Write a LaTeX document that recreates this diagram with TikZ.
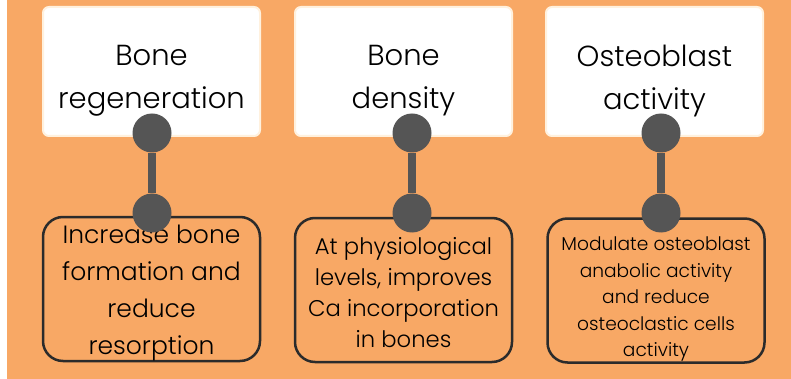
\documentclass[tikz,border=0pt]{standalone}
\usepackage{fontspec}
\setmainfont{Poppins}[UprightFont=* Light]
\usepackage{tikz}
\usetikzlibrary{
  arrows.meta,
  shapes,
  positioning,
  calc,
  backgrounds
}
\definecolor{boPage}{HTML}{F8A865}
\definecolor{boRim}{HTML}{FFF1DE}
\definecolor{boDot}{HTML}{555555}
\definecolor{boInk}{HTML}{2B2B2B}
\tikzset{
  topic/.style={
    draw=boRim, fill=white, line width=2pt, rounded corners=6pt,
    minimum width=217pt, minimum height=129pt, inner sep=0pt
  },
  topictext/.style={
    align=center, inner sep=0pt, yshift=-9pt, font=\fontsize{29}{43}\selectfont
  },
  effect/.style={
    draw=boInk, fill=boPage, line width=2.5pt, rounded corners=20pt,
    minimum width=217pt, minimum height=144pt, inner sep=0pt
  },
  effecttext/.style={align=center, inner sep=0pt},
  bigtext/.style={effecttext, yshift=-4pt, font=\fontsize{25}{37}\selectfont},
  midtext/.style={effecttext, yshift=-3pt, font=\fontsize{22.7}{31}\selectfont},
  smalltext/.style={effecttext, yshift=-9pt, font=\fontsize{18.6}{26.5}\selectfont},
  dot/.style={circle, fill=boDot, minimum size=39pt, inner sep=0pt},
  stem/.style={line width=8pt, boDot}
}

\begin{document}
\begin{tikzpicture}[x=1pt, y=-1pt]
  \useasboundingbox (0,0) rectangle (791,379);
  \fill[boPage] (7,0) rectangle (791,379);

  % top boxes
  \node[topic, label={[topictext]center:{Bone\\regeneration}}] (regen) at (151.5,71.5) {};
  \node[topic, label={[topictext]center:{Bone\\density}}] (dens) at (403.5,71.5) {};
  \node[topic, label={[topictext]center:{Osteoblast\\activity}}] (osteo) at (654.5,71.5) {};

  % lower boxes
  \node[effect, label={[bigtext]center:{Increase bone\\formation and\\reduce\\resorption}}] (regeneff) at (151.5,289) {};
  \node[effect, label={[midtext]center:{At physiological\\levels, improves\\Ca incorporation\\in bones}}] (denseff) at (403.5,290) {};
  \node[effect, label={[smalltext]center:{Modulate osteoblast\\anabolic activity\\and reduce\\osteoclastic cells\\activity}}] (osteoeff) at (656,290.5) {};

  % dots and stems
  \node[dot] (regentop) at (152,133) {};
  \node[dot] (regenbot) at (152,213) {};
  \node[dot] (denstop) at (412,133) {};
  \node[dot] (densbot) at (412,213) {};
  \node[dot] (osteotop) at (661,133) {};
  \node[dot] (osteobot) at (661,213) {};
  \draw[stem] (regentop) -- (regenbot);
  \draw[stem] (denstop) -- (densbot);
  \draw[stem] (osteotop) -- (osteobot);
\end{tikzpicture}
\end{document}
